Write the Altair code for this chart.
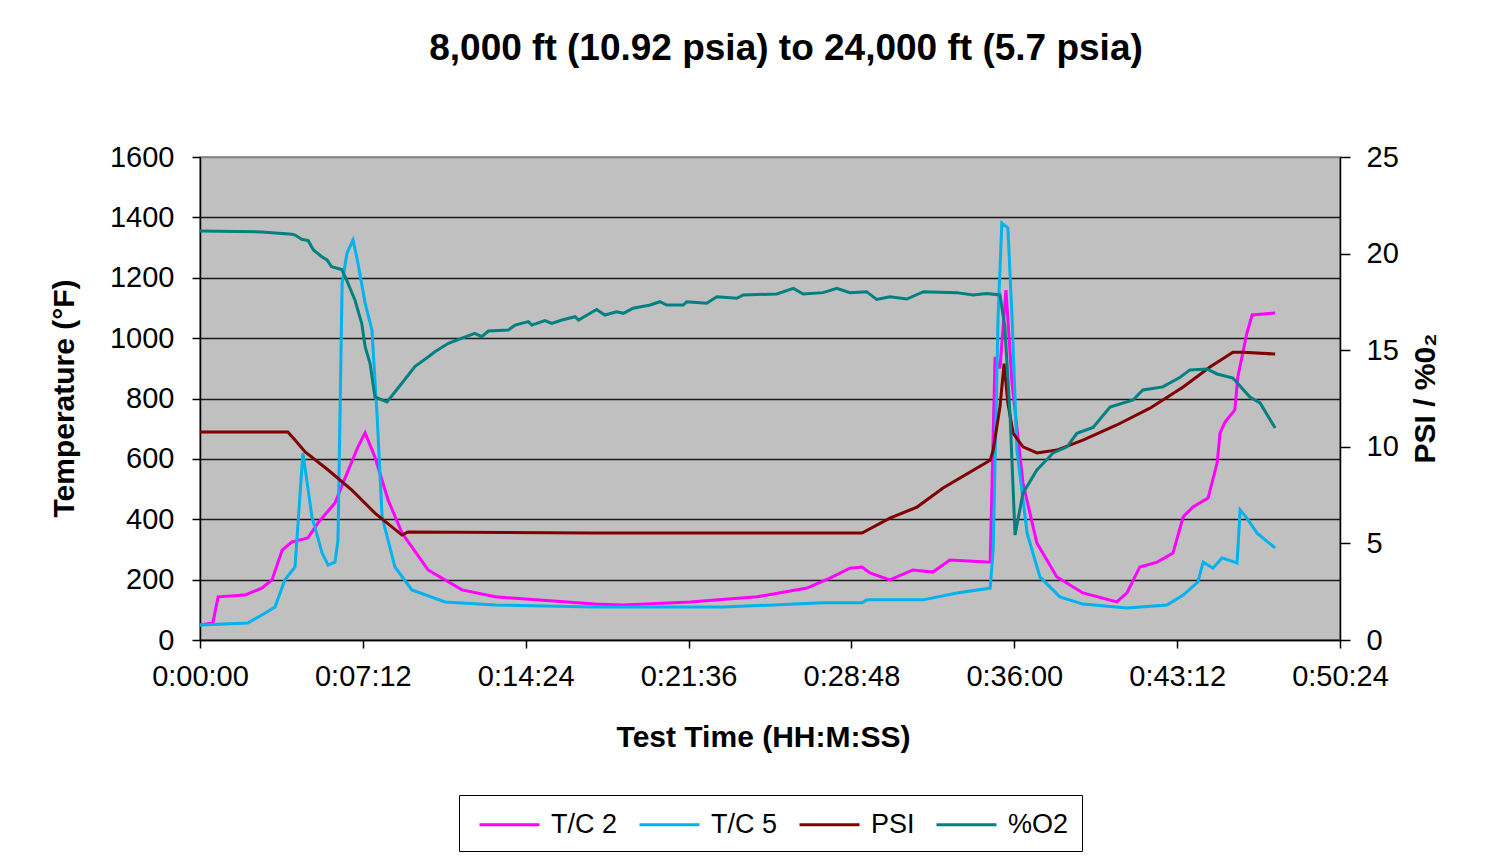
import json
import altair as alt
import pandas as pd

# ---------------- data (time in seconds) ----------------
SERIES = ["T/C 2", "T/C 5", "PSI", "%O2"]
COLORS = ["#FF00FF", "#00B2EE", "#800000", "#008080"]

TC2_T = [0, 34, 48, 119, 164, 191, 218, 244, 286, 313, 358, 385, 419, 438, 464, 499, 536, 605, 695, 783,
         1048, 1122, 1300, 1478, 1610, 1671, 1724, 1756, 1777, 1830, 1891, 1944, 1989, 2088, 2096, 2101,
         2109, 2122, 2138, 2154, 2183, 2220, 2273, 2342, 2432, 2459, 2493, 2539, 2581, 2608, 2634, 2674,
         2698, 2706, 2719, 2745, 2753, 2777, 2791, 2852]
TC2_V = [50, 56, 143, 149, 172, 199, 298, 325, 338, 388, 454, 537, 640, 686, 606, 464, 354, 232, 166, 143,
         119, 116, 126, 143, 172, 205, 238, 242, 222, 199, 232, 225, 265, 258, 258, 520,
         937, 900, 1159, 851, 520, 321, 209, 156, 126, 156, 242, 258, 288, 408, 441, 470,
         586, 686, 722, 762, 871, 1017, 1077, 1083]

TC5_T = [0, 127, 164, 199, 225, 252, 273, 297, 324, 340, 358, 366, 377, 390, 406, 419, 438, 456, 470, 483,
         517, 562, 650, 783, 1048, 1387, 1653, 1756, 1769, 1918, 2008, 2096, 2104, 2117, 2127, 2143, 2154,
         2167, 2194, 2228, 2281, 2342, 2459, 2565, 2608, 2647, 2661, 2687, 2711, 2751, 2759, 2777, 2804, 2852]
TC5_V = [50, 56, 83, 109, 199, 242, 619, 408, 288, 248, 258, 331, 1182, 1282, 1325, 1249, 1116, 1027, 739, 408,
         242, 166, 126, 116, 109, 109, 123, 123, 133, 133, 156, 172, 298, 1070, 1381, 1365, 1070,
         629, 354, 209, 143, 119, 106, 116, 149, 192, 258, 238, 272, 255, 431, 404, 354, 305]

PSI_T = [0, 233, 252, 279, 340, 403, 464, 536, 552, 1035, 1756, 1830, 1902, 1971, 2096, 2104, 2122, 2133,
         2143, 2157, 2183, 2220, 2273, 2342, 2432, 2520, 2608, 2679, 2740, 2767, 2852]
PSI_V = [10.77, 10.77, 10.35, 9.73, 8.8, 7.76, 6.57, 5.43, 5.59, 5.54, 5.54, 6.31, 6.88, 7.87, 9.3, 9.83, 12.06, 14.3,
         12.27, 10.7, 10.0, 9.68, 9.83, 10.35, 11.13, 12.0, 13.1, 14.13, 14.9, 14.9, 14.8]

O2_T = [0, 164, 244, 252, 270, 287, 301, 323, 337, 349, 376, 389, 411, 429, 438, 451, 464, 496, 536, 570,
        605, 623, 659, 695, 729, 747, 765, 818, 836, 871, 880, 915, 933, 960, 995, 1004, 1035, 1052, 1074,
        1105, 1123, 1149, 1194, 1220, 1238, 1282, 1291, 1344, 1371, 1424, 1441, 1530, 1574, 1600, 1653,
        1689, 1724, 1768, 1795, 1830, 1875, 1919, 2007, 2051, 2087, 2122, 2135, 2149, 2162, 2183, 2220,
        2263, 2300, 2326, 2369, 2414, 2475, 2501, 2554, 2600, 2626, 2671, 2698, 2740, 2785, 2812, 2852]
O2_V = [21.17, 21.12, 21.0, 20.96, 20.74, 20.67, 20.19, 19.84, 19.67, 19.32, 19.18, 18.63, 17.6, 16.39, 15.18,
        14.32, 12.58, 12.32, 13.3, 14.15, 14.65, 14.92, 15.36, 15.63, 15.87, 15.7, 15.99, 16.05, 16.3, 16.48,
        16.3, 16.53, 16.39, 16.56, 16.73, 16.56, 16.91, 17.11, 16.82, 16.99, 16.91, 17.17, 17.34, 17.51, 17.34,
        17.34, 17.51, 17.43, 17.77, 17.69, 17.86, 17.91, 18.2, 17.91, 17.98, 18.2, 17.98, 18.03, 17.63, 17.77,
        17.65, 18.03, 17.98, 17.86, 17.94, 17.86, 16.2, 11.54, 5.43, 7.6, 8.8, 9.68, 10.0, 10.7, 11.0, 12.06,
        12.42, 12.94, 13.1, 13.6, 13.98, 14.03, 13.77, 13.56, 12.58, 12.27, 10.97]

X_TICKS = [0, 432, 864, 1296, 1728, 2160, 2592, 3024]
X_TICK_LABELS = ["0:00:00", "0:07:12", "0:14:24", "0:21:36", "0:28:48", "0:36:00", "0:43:12", "0:50:24"]
Y_LEFT_TICKS = [0, 200, 400, 600, 800, 1000, 1200, 1400, 1600]
Y_RIGHT_TICKS = [0, 5, 10, 15, 20, 25]

TITLE = "8,000 ft (10.92 psia) to 24,000 ft (5.7 psia)"
X_TITLE = "Test Time (HH:M:SS)"
Y_LEFT_TITLE = "Temperature (°F)"
Y_RIGHT_TITLE = "PSI / %0₂"

# ---------------- build table ----------------
rows = []
for name, ts, vs in [("T/C 2", TC2_T, TC2_V), ("T/C 5", TC5_T, TC5_V),
                     ("PSI", PSI_T, PSI_V), ("%O2", O2_T, O2_V)]:
    for i, (t, v) in enumerate(zip(ts, vs)):
        rows.append({"series": name, "t": t, "v": v, "i": i})
df = pd.DataFrame(rows)

FONT = "Liberation Sans"
label_expr = json.dumps(X_TICK_LABELS) + "[round(datum.value / 432)]"

x_enc = alt.X("t:Q",
              scale=alt.Scale(domain=[0, 3024], nice=False, zero=False),
              axis=alt.Axis(values=X_TICKS, labelExpr=label_expr, title=X_TITLE,
                            grid=False, tickSize=8, tickWidth=1.5, tickColor="#000000",
                            domainColor="#000000", domainWidth=1.5,
                            labelFont=FONT, labelFontSize=29, labelColor="#000000",
                            labelPadding=14, labelFlush=False,
                            titleFont=FONT, titleFontSize=30, titleFontWeight="bold",
                            titleColor="#000000", titleX=563, titleY=97,
                            titleBaseline="middle", titleAlign="center"))

color_enc = alt.Color("series:N",
                      scale=alt.Scale(domain=SERIES, range=COLORS),
                      sort=SERIES,
                      legend=alt.Legend(title=None, orient="none", direction="horizontal",
                                        legendX=259, legendY=638,
                                        symbolType="M-2,0H2", symbolSize=900, symbolStrokeWidth=3,
                                        symbolOffset=21,
                                        labelFont=FONT, labelFontSize=27, labelColor="#000000",
                                        labelOffset=25, columnPadding=14, padding=13,
                                        strokeColor="#000000", fillColor="#FFFFFF"))

temp = alt.Chart(df).transform_filter(
    alt.FieldOneOfPredicate(field="series", oneOf=["T/C 2", "T/C 5"])
).mark_line(strokeWidth=3).encode(
    x=x_enc,
    y=alt.Y("v:Q", scale=alt.Scale(domain=[0, 1600], nice=False),
            axis=alt.Axis(values=Y_LEFT_TICKS, format="d", title=Y_LEFT_TITLE, orient="left",
                          grid=True,
                          gridColor=alt.condition("datum.value == 1600", alt.value("#808080"), alt.value("#1a1a1a")),
                          gridWidth=1.5,
                          tickSize=8, tickWidth=1.5, tickColor="#000000",
                          domainColor="#000000", domainWidth=1.5,
                          labelFont=FONT, labelFontSize=29, labelColor="#000000",
                          labelPadding=18, labelFlush=False,
                          titleFont=FONT, titleFontSize=30, titleFontWeight="bold",
                          titleColor="#000000", titleAngle=270, titleX=-136, titleY=241,
                          titleBaseline="middle", titleAlign="center")),
    color=color_enc,
    order="i:Q",
)

right = alt.Chart(df).transform_filter(
    alt.FieldOneOfPredicate(field="series", oneOf=["PSI", "%O2"])
).mark_line(strokeWidth=3).encode(
    x=x_enc,
    y=alt.Y("v:Q", scale=alt.Scale(domain=[0, 25], nice=False),
            axis=alt.Axis(values=Y_RIGHT_TICKS, title=Y_RIGHT_TITLE, orient="right",
                          grid=False, tickSize=10, tickWidth=1.5, tickColor="#000000",
                          domainColor="#000000", domainWidth=1.5,
                          labelFont=FONT, labelFontSize=29, labelColor="#000000",
                          labelPadding=16, labelFlush=False,
                          titleFont=FONT, titleFontSize=30, titleFontWeight="bold",
                          titleColor="#000000", titleAngle=270, titleX=85, titleY=241,
                          titleBaseline="middle", titleAlign="center")),
    color=color_enc,
    order="i:Q",
)

chart = alt.layer(temp, right).resolve_scale(y="independent", color="shared").properties(
    width=1140, height=483,
    padding={"left": 192, "top": 149, "right": 155, "bottom": 215},
    autosize=alt.AutoSizeParams(type="none"),
    background="#FFFFFF",
    title=alt.TitleParams(TITLE, font=FONT, fontSize=37, fontWeight="bold", color="#000000",
                          anchor="middle", frame="group", dx=16, offset=75),
).configure_view(
    fill="#C0C0C0", stroke="#808080", strokeWidth=1.5
)

chart.save("out.html", embed_options={"renderer": "svg", "actions": False})
